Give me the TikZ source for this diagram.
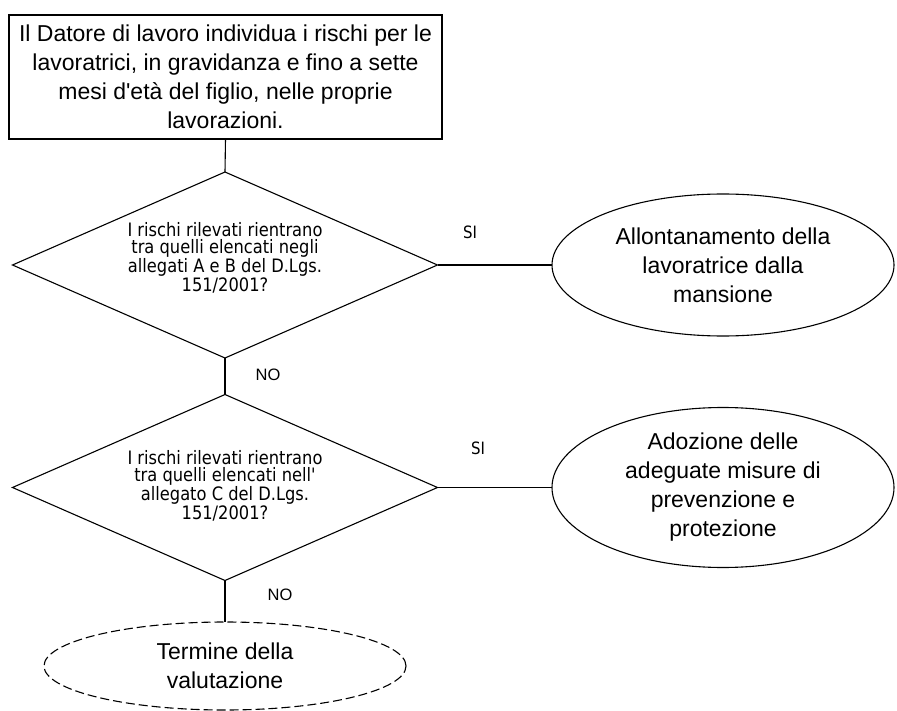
\documentclass[tikz,border=0pt]{standalone}
\usepackage{fontspec}
\setmainfont{Liberation Sans}
\newfontfamily\qfont[FakeStretch=0.88]{DejaVu Sans}
\usetikzlibrary{shapes.geometric}
\begin{document}
\begin{tikzpicture}[x=1pt,y=-1pt,
  line width=1.1pt,
  every node/.style={inner sep=0pt,outer sep=0pt},
  bigtext/.style={font=\fontsize{23}{29}\selectfont,align=center},
  qtext/.style={font=\qfont\fontsize{18.5}{17}\selectfont,align=center},
  startbox/.style={draw,rectangle,minimum width=433pt,minimum height=124pt,bigtext},
  decision/.style={draw,diamond,minimum width=425pt,minimum height=186pt},
  outcome/.style={draw,ellipse,bigtext},
  endcase/.style={draw,ellipse,bigtext,dash pattern=on 9pt off 4pt},
  yes/.style={font=\qfont\fontsize{17}{17}\selectfont},
  no/.style={font=\fontsize{16.5}{18}\selectfont}
]
\useasboundingbox (0,0) rectangle (897,711);
\node[startbox] (start) at (225.5,77) {Il Datore di lavoro individua i rischi per le\\lavoratrici, in gravidanza e fino a sette\\mesi d\textquotesingle età del figlio, nelle proprie\\lavorazioni.};
\node[decision] (d1) at (225,265) {};
\node[qtext] (d1t) at (225,258) {I rischi rilevati rientrano\\tra quelli elencati negli\\allegati A e B del D.Lgs.\\151/2001?};
\node[decision] (d2) at (225,487.5) {};
\node[qtext] (d2t) at (225,486) {I rischi rilevati rientrano\\tra quelli elencati nell'\\allegato C del D.Lgs.\\151/2001?};
\node[outcome,minimum width=342pt,minimum height=142pt] (e1) at (723,265) {Allontanamento della\\lavoratrice dalla\\mansione};
\node[outcome,minimum width=342pt,minimum height=160pt] (e2) at (723,487.5) {Adozione delle\\adeguate misure di\\prevenzione e\\protezione};
\node[endcase,minimum width=362pt,minimum height=88pt] (e3) at (225,666) {Termine della\\valutazione};
\node[yes] (si1) at (470,232) {SI};
\node[yes] (si2) at (478,448) {SI};
\node[no] (no1) at (268,375) {NO};
\node[no] (no2) at (280,595) {NO};
\draw (start.south) -- (d1.north);
\draw (d1.east) -- (e1.west);
\draw (d1.south) -- (d2.north);
\draw (d2.east) -- (e2.west);
\draw (d2.south) -- (e3.north);
\end{tikzpicture}
\end{document}
